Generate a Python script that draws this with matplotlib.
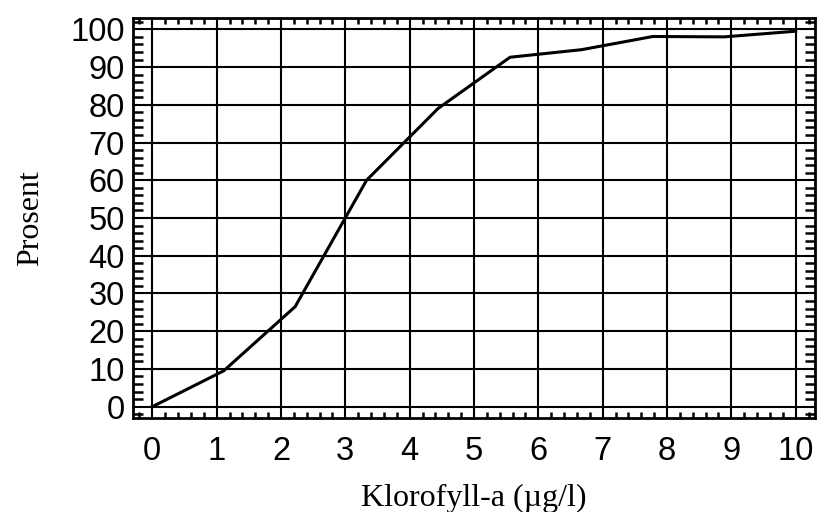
import matplotlib
matplotlib.use("Agg")
import matplotlib.pyplot as plt
from matplotlib.ticker import MultipleLocator

# cumulative distribution of chlorophyll-a
klorofyll = [0, 1.11, 2.22, 3.33, 4.44, 5.56, 6.67, 7.78, 8.89, 10]
prosent = [0, 9.5, 26.5, 60, 79, 92.6, 94.6, 98.1, 98.0, 99.5]

x_ticks = list(range(0, 11))
y_ticks = list(range(0, 101, 10))

fig = plt.figure(figsize=(8.18, 5.12), dpi=100)
ax = fig.add_axes([133 / 818, 1 - 418 / 512, (815 - 133) / 818, (418 - 18) / 512])

ax.plot(klorofyll, prosent, color="black", lw=2.2, zorder=3)

ax.set_xlim(-0.3, 10.3)
ax.set_ylim(-3, 103)
ax.set_xticks(x_ticks)
ax.set_yticks(y_ticks)
ax.xaxis.set_minor_locator(MultipleLocator(0.2))
ax.yaxis.set_minor_locator(MultipleLocator(2))
ax.grid(True, which="major", color="black", lw=1.5)

ax.tick_params(which="both", direction="in", top=True, right=True, width=1.8)
ax.tick_params(which="major", length=0)
ax.tick_params(axis="x", which="minor", length=4)
ax.tick_params(axis="y", which="minor", length=7)
ax.tick_params(axis="x", which="major", pad=13)
ax.tick_params(axis="y", which="major", pad=6)

for lab in ax.get_xticklabels() + ax.get_yticklabels():
    lab.set_fontfamily("Liberation Sans")
    lab.set_fontsize(23.5)

for sp in ax.spines.values():
    sp.set_linewidth(2)

ax.set_xlabel("Klorofyll-a (µg/l)", fontfamily="Liberation Serif", fontsize=23, labelpad=12)
ax.set_ylabel("Prosent", fontfamily="Liberation Serif", fontsize=23, labelpad=18)

fig.savefig("out.png", dpi=100)
